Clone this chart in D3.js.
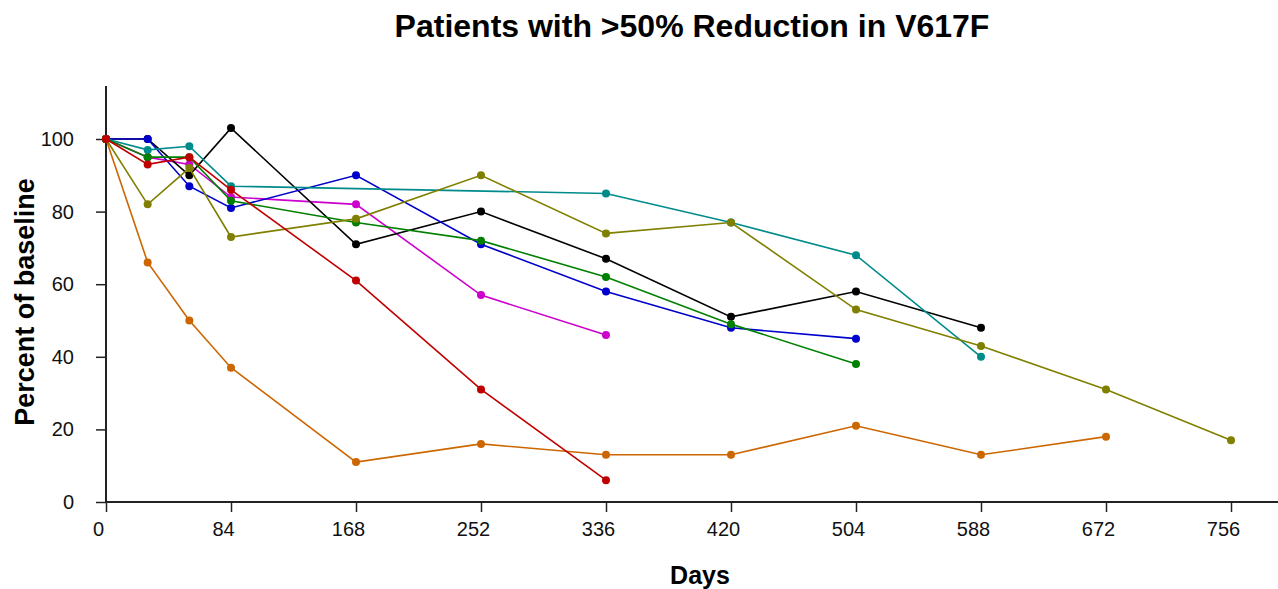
<!DOCTYPE html>
<html>
<head>
<meta charset="utf-8">
<script src="https://cdn.jsdelivr.net/npm/d3@7"></script>
<style>
  html, body { margin: 0; padding: 0; background: #fff; }
  svg { display: block; font-family: "Liberation Sans", Arial, sans-serif; }
</style>
</head>
<body>
<svg id="chart" width="1278" height="589"></svg>
<script>
// Study visit days shared by all patients
const days = [0, 28, 56, 84, 168, 252, 336, 420, 504, 588, 672, 756];
const xTicks = [0, 84, 168, 252, 336, 420, 504, 588, 672, 756];
const yTicks = [0, 20, 40, 60, 80, 100];

// Percent of baseline V617F allele burden per patient (null = no sample)
const patientOrange  = [100, 66, 50, 37, 11, 16, 13, 13, 21, 13, 18, null];
const patientMagenta = [100, 95, 93, 84, 82, 57, 46, null, null, null, null, null];
const patientBlack   = [100, 100, 90, 103, 71, 80, 67, 51, 58, 48, null, null];
const patientBlue    = [100, 100, 87, 81, 90, 71, 58, 48, 45, null, null, null];
const patientTeal    = [100, 97, 98, 87, null, null, 85, 77, 68, 40, null, null];
const patientGreen   = [100, 95, 95, 83, 77, 72, 62, 49, 38, null, null, null];
const patientOlive   = [100, 82, 92, 73, 78, 90, 74, 77, 53, 43, 31, 17];
const patientRed     = [100, 93, 95, 86, 61, 31, 6, null, null, null, null, null];

const series = [
  { values: patientOrange,  color: "#CC6600" },
  { values: patientMagenta, color: "#CC00CC" },
  { values: patientBlack,   color: "#000000" },
  { values: patientBlue,    color: "#0000CC" },
  { values: patientTeal,    color: "#008B8B" },
  { values: patientGreen,   color: "#008000" },
  { values: patientOlive,   color: "#808000" },
  { values: patientRed,     color: "#C00000" }
];

const svg = d3.select("#chart");
const x = d3.scaleLinear().domain([0, 756]).range([106, 1231]);
const y = d3.scaleLinear().domain([0, 100]).range([502, 139]);
const xEnd = 1278, yTop = 86;

// Title
svg.append("text")
  .attr("x", 692).attr("y", 37)
  .attr("text-anchor", "middle")
  .attr("font-size", 32).attr("font-weight", "bold")
  .text("Patients with >50% Reduction in V617F");

// Axes
const axes = svg.append("g").attr("stroke", "#222").attr("fill", "none");
axes.append("line").attr("x1", x(0)).attr("x2", xEnd)
  .attr("y1", y(0)).attr("y2", y(0)).attr("stroke-width", 2);
axes.append("line").attr("x1", x(0)).attr("x2", x(0))
  .attr("y1", yTop).attr("y2", y(0)).attr("stroke-width", 2);

const xAxis = d3.axisBottom(x).tickValues(xTicks).tickSize(10).tickPadding(10);
const gx = svg.append("g").attr("transform", `translate(0,${y(0)})`).call(xAxis);
gx.select(".domain").remove();
gx.selectAll(".tick line").attr("stroke", "#222").attr("stroke-width", 1.5);
gx.selectAll(".tick text").attr("font-size", 20).attr("fill", "#111")
  .attr("dx", -8)
  .attr("font-family", "Liberation Sans, Arial, sans-serif");

const yAxis = d3.axisLeft(y).tickValues(yTicks).tickSize(10).tickPadding(22);
const gy = svg.append("g").attr("transform", `translate(${x(0)},0)`).call(yAxis);
gy.select(".domain").remove();
gy.selectAll(".tick line").attr("stroke", "#222").attr("stroke-width", 1.5);
gy.selectAll(".tick text").attr("font-size", 20).attr("fill", "#111")
  .attr("font-family", "Liberation Sans, Arial, sans-serif");

// Axis titles
svg.append("text")
  .attr("x", 700).attr("y", 584)
  .attr("text-anchor", "middle")
  .attr("font-size", 25).attr("font-weight", "bold")
  .text("Days");
svg.append("text")
  .attr("transform", "translate(34,302) rotate(-90)")
  .attr("text-anchor", "middle")
  .attr("font-size", 27).attr("font-weight", "bold")
  .text("Percent of baseline");

// Patient trajectories
const line = d3.line()
  .defined(d => d.v != null)
  .x(d => x(d.day)).y(d => y(d.v));

series.forEach(s => {
  const pts = days.map((day, i) => ({ day, v: s.values[i] })).filter(d => d.v != null);
  const g = svg.append("g");
  g.append("path").datum(pts)
    .attr("d", line)
    .attr("fill", "none")
    .attr("stroke", s.color)
    .attr("stroke-width", 1.6);
  g.selectAll("circle").data(pts).join("circle")
    .attr("cx", d => x(d.day)).attr("cy", d => y(d.v))
    .attr("r", 4)
    .attr("fill", s.color);
});
</script>
</body>
</html>
